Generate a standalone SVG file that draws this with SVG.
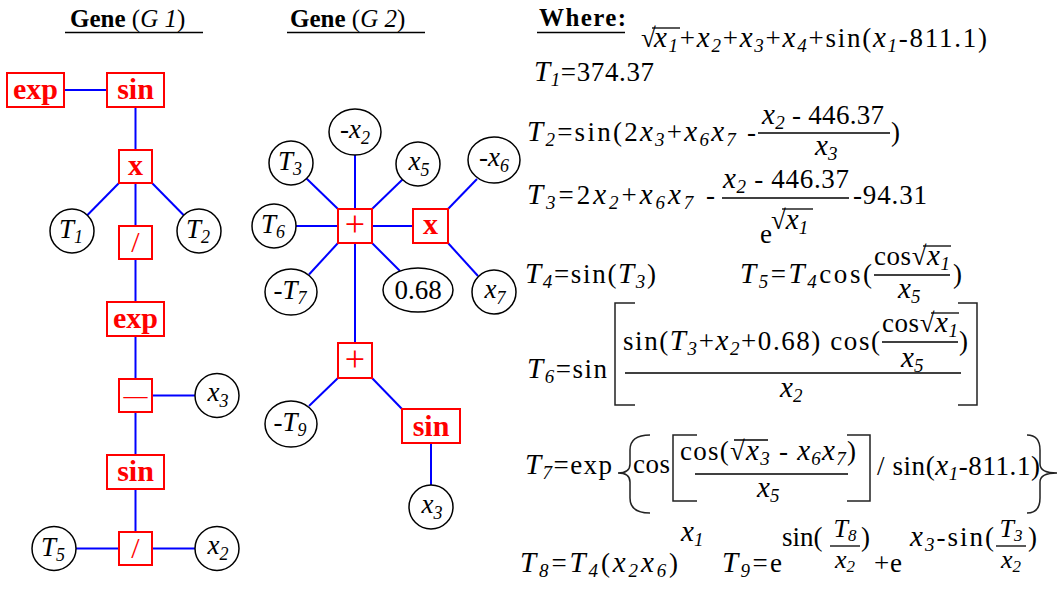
<svg xmlns="http://www.w3.org/2000/svg" width="1061" height="590" viewBox="0 0 1061 590" font-family="Liberation Serif, serif">
<style>
.f{font-family:"Liberation Serif",serif;font-size:27px;fill:#000}
.i{font-family:"Liberation Serif",serif;font-style:italic;font-size:29px}
.sb{font-family:"Liberation Serif",serif;font-size:19px;font-style:italic}
.fr{font-family:"Liberation Serif",serif;font-size:26px;font-style:italic;fill:#000}
.fs{font-size:17px}
.ttl{font-family:"Liberation Serif",serif;font-size:25px;fill:#000}
.b{font-family:"Liberation Serif",serif;font-weight:bold}
.box{fill:#fff;stroke:#f00;stroke-width:2}
.op{font-family:"Liberation Serif",serif;fill:#f00;font-weight:bold;font-size:30px;text-anchor:middle}
.opr{font-family:"Liberation Serif",serif;fill:#f00;font-size:30px;text-anchor:middle}
.leaf{fill:#fff;stroke:#000;stroke-width:1.5}
.lt{font-family:"Liberation Serif",serif;font-size:27px;font-style:italic;text-anchor:middle;fill:#000}
.ls{font-family:"Liberation Serif",serif;font-size:18px;font-style:italic}
.edge{stroke:#00f;stroke-width:2;fill:none}
.bar{stroke:#000;stroke-width:1.3}
.brk{stroke:#222;stroke-width:1.5;fill:none}
.mid{text-anchor:middle}
</style>
<g id="titles">
<text class="ttl" x="70" y="27"><tspan class="b">Gene</tspan> (<tspan font-style="italic">G 1</tspan>)</text>
<line x1="65" y1="32.5" x2="203" y2="32.5" stroke="#000" stroke-width="1.5"/>
<text class="ttl" x="290" y="27"><tspan class="b">Gene</tspan> (<tspan font-style="italic">G 2</tspan>)</text>
<line x1="287" y1="32.5" x2="425" y2="32.5" stroke="#000" stroke-width="1.5"/>
<text class="ttl b" x="539" y="26" textLength="87">Where:</text>
<line x1="537" y1="32.5" x2="625" y2="32.5" stroke="#000" stroke-width="1.5"/>
</g>
<g id="connectors">
<line class="edge" x1="64" y1="90" x2="107" y2="90"/>
<line class="edge" x1="135.5" y1="107" x2="135.5" y2="150"/>
<line class="edge" x1="119" y1="183" x2="87" y2="215.5"/>
<line class="edge" x1="152" y1="183" x2="184" y2="215.5"/>
<line class="edge" x1="135.5" y1="183" x2="135.5" y2="226"/>
<line class="edge" x1="135.5" y1="259" x2="135.5" y2="302"/>
<line class="edge" x1="135.5" y1="336" x2="135.5" y2="379"/>
<line class="edge" x1="152" y1="395.5" x2="195" y2="395.5"/>
<line class="edge" x1="135.5" y1="412" x2="135.5" y2="455"/>
<line class="edge" x1="135.5" y1="489" x2="135.5" y2="532"/>
<line class="edge" x1="76" y1="548.5" x2="119" y2="548.5"/>
<line class="edge" x1="152" y1="548.5" x2="195" y2="548.5"/>
<line class="edge" x1="355" y1="209" x2="355" y2="155"/>
<line class="edge" x1="338" y1="209" x2="306.5" y2="178.5"/>
<line class="edge" x1="372" y1="209" x2="402.5" y2="179.5"/>
<line class="edge" x1="338" y1="226" x2="296" y2="226"/>
<line class="edge" x1="338" y1="243" x2="309" y2="274.5"/>
<line class="edge" x1="372" y1="243" x2="400" y2="271"/>
<line class="edge" x1="372" y1="226" x2="413" y2="226"/>
<line class="edge" x1="355" y1="243" x2="355" y2="343"/>
<line class="edge" x1="448" y1="209" x2="477" y2="179"/>
<line class="edge" x1="448" y1="243" x2="478" y2="276"/>
<line class="edge" x1="338" y1="378" x2="309" y2="406"/>
<line class="edge" x1="372" y1="378" x2="402" y2="409"/>
<line class="edge" x1="431" y1="443" x2="431" y2="485"/>
</g>
<g id="g1-exp"><rect class="box" x="7" y="73" width="57" height="34"/><text class="op" x="35.5" y="99">exp</text></g>
<g id="g1-sin"><rect class="box" x="107" y="73" width="57" height="34"/><text class="op" x="135.5" y="99">sin</text></g>
<g id="g1-mul"><rect class="box" x="119" y="150" width="33" height="33"/><text class="op" x="135.5" y="175">x</text></g>
<g id="g1-T1"><circle class="leaf" cx="72" cy="231" r="22"/><text class="lt" x="71" y="238">T<tspan class="ls" dy="5">1</tspan></text></g>
<g id="g1-T2"><circle class="leaf" cx="199" cy="231" r="22"/><text class="lt" x="198" y="238">T<tspan class="ls" dy="5">2</tspan></text></g>
<g id="g1-div1"><rect class="box" x="119" y="226" width="33" height="33"/><text class="opr" x="135.5" y="252">/</text></g>
<g id="g1-exp2"><rect class="box" x="107" y="302" width="57" height="34"/><text class="op" x="135.5" y="328">exp</text></g>
<g id="g1-minus"><rect class="box" x="119" y="379" width="33" height="33"/><text class="opr" x="135.5" y="403" style="font-size:24px">—</text></g>
<g id="g1-x3"><circle class="leaf" cx="217" cy="395.5" r="22"/><text class="lt" x="218" y="401">x<tspan class="ls" dy="6">3</tspan></text></g>
<g id="g1-sin2"><rect class="box" x="107" y="455" width="57" height="34"/><text class="op" x="135.5" y="481">sin</text></g>
<g id="g1-div2"><rect class="box" x="119" y="532" width="33" height="33"/><text class="opr" x="135.5" y="558">/</text></g>
<g id="g1-T5"><circle class="leaf" cx="54" cy="548.5" r="22"/><text class="lt" x="53" y="556">T<tspan class="ls" dy="5">5</tspan></text></g>
<g id="g1-x2"><circle class="leaf" cx="217" cy="548.5" r="22"/><text class="lt" x="218" y="554">x<tspan class="ls" dy="6">2</tspan></text></g>
<g id="g2-plus1"><rect class="box" x="338" y="209" width="34" height="34"/><text class="opr" x="355" y="236" style="font-size:36px">+</text></g>
<g id="g2-mul"><rect class="box" x="413" y="209" width="35" height="34"/><text class="op" x="430.5" y="234">x</text></g>
<g id="g2-mx2"><ellipse class="leaf" cx="355" cy="132" rx="26" ry="23"/><text class="lt" x="355" y="138">-x<tspan class="ls" dy="6">2</tspan></text></g>
<g id="g2-T3"><circle class="leaf" cx="291" cy="163" r="22"/><text class="lt" x="290" y="170">T<tspan class="ls" dy="5">3</tspan></text></g>
<g id="g2-x5"><circle class="leaf" cx="418" cy="164" r="22"/><text class="lt" x="419" y="170">x<tspan class="ls" dy="6">5</tspan></text></g>
<g id="g2-mx6"><ellipse class="leaf" cx="494" cy="160" rx="26" ry="23"/><text class="lt" x="494" y="166">-x<tspan class="ls" dy="6">6</tspan></text></g>
<g id="g2-T6"><circle class="leaf" cx="274" cy="226" r="22"/><text class="lt" x="273" y="233">T<tspan class="ls" dy="5">6</tspan></text></g>
<g id="g2-mT7"><ellipse class="leaf" cx="291" cy="292" rx="26" ry="23"/><text class="lt" x="290" y="299">-T<tspan class="ls" dy="5">7</tspan></text></g>
<g id="g2-c068"><ellipse class="leaf" cx="418" cy="290" rx="35" ry="22"/><text class="f mid" x="418" y="299">0.68</text></g>
<g id="g2-x7"><circle class="leaf" cx="494" cy="292" r="22"/><text class="lt" x="495" y="298">x<tspan class="ls" dy="6">7</tspan></text></g>
<g id="g2-plus2"><rect class="box" x="338" y="343" width="34" height="35"/><text class="opr" x="355" y="371" style="font-size:36px">+</text></g>
<g id="g2-mT9"><ellipse class="leaf" cx="291" cy="424" rx="26" ry="23"/><text class="lt" x="290" y="431">-T<tspan class="ls" dy="5">9</tspan></text></g>
<g id="g2-sin"><rect class="box" x="402" y="409" width="58" height="34"/><text class="op" x="431" y="436">sin</text></g>
<g id="g2-x3"><circle class="leaf" cx="431" cy="507" r="22"/><text class="lt" x="432" y="513">x<tspan class="ls" dy="6">3</tspan></text></g>
<g id="formulas">
<text class="f" x="641" y="47">√</text>
<line class="bar" x1="652" y1="28" x2="680" y2="28"/>
<text class="f" x="654" y="47" textLength="333"><tspan class="i">x</tspan><tspan class="sb" dy="5">1</tspan><tspan dy="-5">+</tspan><tspan class="i">x</tspan><tspan class="sb" dy="5">2</tspan><tspan dy="-5">+</tspan><tspan class="i">x</tspan><tspan class="sb" dy="5">3</tspan><tspan dy="-5">+</tspan><tspan class="i">x</tspan><tspan class="sb" dy="5">4</tspan><tspan dy="-5">+sin(</tspan><tspan class="i">x</tspan><tspan class="sb" dy="5">1</tspan><tspan dy="-5">-811.1)</tspan></text>
<text class="f" x="534" y="81" textLength="120"><tspan class="i">T</tspan><tspan class="sb" dy="5">1</tspan><tspan dy="-5">=374.37</tspan></text>
<text class="f" x="527" y="141" textLength="229"><tspan class="i">T</tspan><tspan class="sb" dy="5">2</tspan><tspan dy="-5">=sin(2</tspan><tspan class="i">x</tspan><tspan class="sb" dy="5">3</tspan><tspan dy="-5">+</tspan><tspan class="i">x</tspan><tspan class="sb" dy="5">6</tspan><tspan class="i" dy="-5">x</tspan><tspan class="sb" dy="5">7</tspan><tspan dy="-5"> -</tspan></text>
<text class="f" x="762" y="124" textLength="122"><tspan class="i">x</tspan><tspan class="sb" dy="5">2</tspan><tspan dy="-5"> - 446.37</tspan></text>
<line class="bar" x1="758" y1="133" x2="890" y2="133"/>
<text class="f" x="815" y="155"><tspan class="i">x</tspan><tspan class="sb" dy="5">3</tspan></text>
<text class="f" x="891" y="141">)</text>
<text class="f" x="527" y="204" textLength="188"><tspan class="i">T</tspan><tspan class="sb" dy="5">3</tspan><tspan dy="-5">=2</tspan><tspan class="i">x</tspan><tspan class="sb" dy="5">2</tspan><tspan dy="-5">+</tspan><tspan class="i">x</tspan><tspan class="sb" dy="5">6</tspan><tspan class="i" dy="-5">x</tspan><tspan class="sb" dy="5">7</tspan><tspan dy="-5"> -</tspan></text>
<text class="f" x="723" y="188" textLength="126"><tspan class="i">x</tspan><tspan class="sb" dy="5">2</tspan><tspan dy="-5"> - 446.37</tspan></text>
<line class="bar" x1="722" y1="198" x2="849" y2="198"/>
<text class="f" x="760" y="243">e</text>
<text class="f" x="771" y="229">√<tspan class="i">x</tspan><tspan class="sb" dy="5">1</tspan></text>
<line class="bar" x1="782" y1="209" x2="813" y2="209"/>
<text class="f" x="853" y="204" textLength="74">-94.31</text>
<text class="f" x="525" y="283" textLength="131"><tspan class="i">T</tspan><tspan class="sb" dy="5">4</tspan><tspan dy="-5">=sin(</tspan><tspan class="i">T</tspan><tspan class="sb" dy="5">3</tspan><tspan dy="-5">)</tspan></text>
<text class="f" x="740" y="283" textLength="132"><tspan class="i">T</tspan><tspan class="sb" dy="5">5</tspan><tspan dy="-5">=</tspan><tspan class="i">T</tspan><tspan class="sb" dy="5">4</tspan><tspan dy="-5">cos(</tspan></text>
<text class="f" x="874" y="265" textLength="76">cos√<tspan class="i">x</tspan><tspan class="sb" dy="5">1</tspan></text>
<line class="bar" x1="923" y1="246" x2="951" y2="246"/>
<line class="bar" x1="874" y1="275" x2="950" y2="275"/>
<text class="f" x="898" y="298"><tspan class="i">x</tspan><tspan class="sb" dy="5">5</tspan></text>
<text class="f" x="953" y="283">)</text>
<text class="f" x="527" y="378" textLength="80"><tspan class="i">T</tspan><tspan class="sb" dy="5">6</tspan><tspan dy="-5">=sin</tspan></text>
<path class="brk" d="M635,303 H615 V405 H635"/>
<path class="brk" d="M958,303 H977 V405 H958"/>
<text class="f" x="623" y="350" textLength="257">sin(<tspan class="i">T</tspan><tspan class="sb" dy="5">3</tspan><tspan dy="-5">+</tspan><tspan class="i">x</tspan><tspan class="sb" dy="5">2</tspan><tspan dy="-5">+0.68) cos(</tspan></text>
<text class="f" x="882" y="332" textLength="76">cos√<tspan class="i">x</tspan><tspan class="sb" dy="5">1</tspan></text>
<line class="bar" x1="931" y1="313" x2="959" y2="313"/>
<line class="bar" x1="882" y1="342" x2="958" y2="342"/>
<text class="f" x="901" y="367"><tspan class="i">x</tspan><tspan class="sb" dy="5">5</tspan></text>
<text class="f" x="959" y="350">)</text>
<line class="bar" x1="625" y1="373" x2="961" y2="373"/>
<text class="f" x="780" y="397"><tspan class="i">x</tspan><tspan class="sb" dy="5">2</tspan></text>
<text class="f" x="525" y="474" textLength="87"><tspan class="i">T</tspan><tspan class="sb" dy="5">7</tspan><tspan dy="-5">=exp</tspan></text>
<path class="brk" d="M650,435 Q630,435 630,450 V464 Q630,473 618,473 Q630,473 630,482 V498 Q630,513 650,513"/>
<text class="f" x="633" y="473" textLength="37">cos</text>
<path class="brk" d="M697,435 H673 V501 H697"/>
<text class="f" x="680" y="460" textLength="176">cos(√<tspan class="i">x</tspan><tspan class="sb" dy="5">3</tspan><tspan dy="-5"> - </tspan><tspan class="i">x</tspan><tspan class="sb" dy="5">6</tspan><tspan class="i" dy="-5">x</tspan><tspan class="sb" dy="5">7</tspan><tspan dy="-5">)</tspan></text>
<line class="bar" x1="734" y1="440" x2="768" y2="440"/>
<line class="bar" x1="695" y1="474" x2="848" y2="474"/>
<text class="f" x="757" y="497"><tspan class="i">x</tspan><tspan class="sb" dy="5">5</tspan></text>
<path class="brk" d="M847,435 H870 V501 H847"/>
<text class="f" x="877" y="475" textLength="163">/ sin(<tspan class="i">x</tspan><tspan class="sb" dy="5">1</tspan><tspan dy="-5">-811.1)</tspan></text>
<path class="brk" d="M1027,435 Q1040,435 1040,450 V464 Q1040,473 1057,473 Q1040,473 1040,482 V498 Q1040,513 1027,513"/>
<text class="f" x="520" y="572" textLength="158"><tspan class="i">T</tspan><tspan class="sb" dy="5">8</tspan><tspan dy="-5">=</tspan><tspan class="i">T</tspan><tspan class="sb" dy="5">4</tspan><tspan dy="-5">(</tspan><tspan class="i">x</tspan><tspan class="sb" dy="5">2</tspan><tspan class="i" dy="-5">x</tspan><tspan class="sb" dy="5">6</tspan><tspan dy="-5">)</tspan></text>
<text class="f" x="681" y="541"><tspan class="i">x</tspan><tspan class="sb" dy="5">1</tspan></text>
<text class="f" x="722" y="572" textLength="60"><tspan class="i">T</tspan><tspan class="sb" dy="5">9</tspan><tspan dy="-5">=e</tspan></text>
<text class="f" x="782" y="546">sin(</text>
<text class="fr mid" x="845" y="537">T<tspan class="fs" dy="4">8</tspan></text>
<line class="bar" x1="830" y1="546" x2="860" y2="546"/>
<text class="fr mid" x="845" y="568">x<tspan class="fs" dy="4">2</tspan></text>
<text class="f" x="861" y="546">)</text>
<text class="f" x="874" y="572" textLength="28">+ e</text>
<text class="f" x="910" y="546" textLength="84"><tspan class="i">x</tspan><tspan class="sb" dy="5">3</tspan><tspan dy="-5">-sin(</tspan></text>
<text class="fr mid" x="1011" y="537">T<tspan class="fs" dy="4">3</tspan></text>
<line class="bar" x1="996" y1="546" x2="1026" y2="546"/>
<text class="fr mid" x="1011" y="568">x<tspan class="fs" dy="4">2</tspan></text>
<text class="f" x="1028" y="546">)</text>
</g>
</svg>
